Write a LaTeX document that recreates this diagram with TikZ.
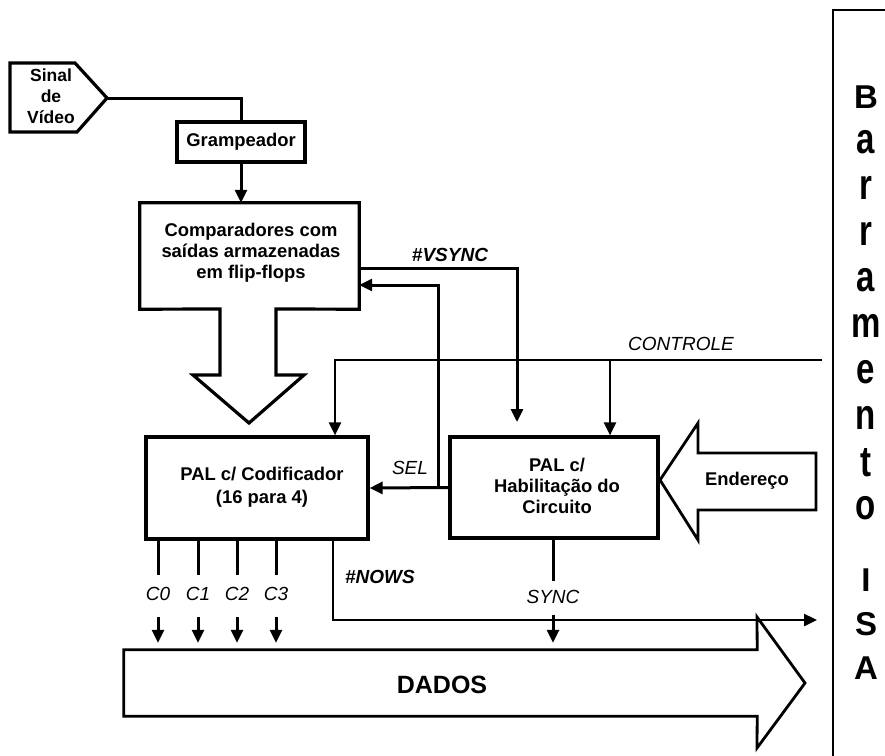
\documentclass[tikz,border=0pt]{standalone}
\usepackage{fontspec}
\setmainfont{Liberation Sans}
\usepackage{graphicx}
\usetikzlibrary{arrows.meta}
\newcommand\stretchlc[1]{\scalebox{1}[1.3]{#1}}
\begin{document}
\begin{tikzpicture}[x=1pt,y=-1pt,
  thick3/.style={line width=3.2pt},
  conn/.style={line width=3pt},
  thinl/.style={line width=2.4pt},
  arr/.style={-{Triangle[length=13pt,width=12pt]}},
  txt/.style={font=\fontsize{18.4}{21}\selectfont\bfseries, align=center, inner sep=0pt},
  lbl/.style={font=\fontsize{19}{20}\selectfont\itshape, inner sep=0pt},
  blbl/.style={font=\fontsize{19}{20}\selectfont\bfseries\itshape, inner sep=0pt},
  busl/.style={font=\fontsize{33}{33}\selectfont\bfseries, inner sep=0pt},
  line join=miter]
\useasboundingbox (0,0) rectangle (885,755);

% Sinal de Video
\node[txt, font=\fontsize{17.5}{21}\selectfont\bfseries] (sinal) at (51,96) {Sinal\\de\\Vídeo};
\draw[thick3] (10,63) -- (75,63) -- (107,98) -- (77,132) -- (10,132) -- cycle;
\coordinate (sinaltip) at (107,98);

% Grampeador
\node[draw, thick3, txt, minimum width=128pt, minimum height=40pt] (gramp) at (241,142) {Grampeador};

% Comparadores
\node[minimum width=219pt, minimum height=106pt] (comp) at (249.5,256) {};
\node[txt] (comptxt) at (251,253) {Comparadores com\\saídas armazenadas\\em flip-flops};
\draw[thick3] (comp.north west) -- (comp.north east) -- (comp.south east) -- (276,309) -- (276,375) -- (304,375) -- (249,423) -- (193,375) -- (220,375) -- (220,309) -- (comp.south west) -- cycle;

% Codificador
\node[draw, thick3, minimum width=222pt, minimum height=102pt] (codif) at (257,488) {};
\node[txt, font=\fontsize{18.4}{23}\selectfont\bfseries] (codiftxt) at (262,487) {PAL c/ Codificador\\(16 para 4)};

% Habilitacao
\node[draw, thick3, minimum width=208pt, minimum height=101pt] (habil) at (554,487.5) {};
\node[txt] (habiltxt) at (557,486) {PAL c/\\Habilitação do\\Circuito};

% Endereco
\node[txt] (ender) at (747,481) {Endereço};
\draw[line width=2.8pt] (660,480) -- (698,423) -- (698,453) -- (816,453) -- (816,510) -- (698,510) -- (698,540) -- cycle;

% DADOS
\node[minimum width=633pt, minimum height=66pt] (dados) at (440.5,683) {};
\node[font=\fontsize{25}{25}\selectfont\bfseries, inner sep=0pt] (dadostxt) at (442,685) {DADOS};
\draw[line width=2.8pt] (dados.north west) -- (dados.north east) -- (757,617) -- (805,683) -- (757,748) -- (dados.south east) -- (dados.south west) -- cycle;

% Barramento ISA
\draw[thinl] (886,10) -- (833,10) -- (833,756);
\foreach \ch/\yy [count=\k] in {B/97, {\stretchlc{a}}/142, {\stretchlc{r}}/188, {\stretchlc{r}}/234, {\stretchlc{a}}/280, {\stretchlc{m}}/326, {\stretchlc{e}}/372, {\stretchlc{n}}/418, {\stretchlc{t}}/463, {\stretchlc{o}}/508, I/580, S/624, A/668}
  {\node[busl] (bus\k) at (866,\yy) {\ch};}

% connectors
\draw[conn] (sinaltip) -| (gramp.north);
\draw[conn, arr] (gramp.south) -- (gramp.south |- comp.north);

\coordinate (vsyncend) at (517,422);
\draw[conn, arr] (comp.east |- 0,268) -| (vsyncend);
\node[blbl] (vsynclbl) at (450,255) {\#VSYNC};

\draw[conn, arr] (habil.west) -- (codif.east);
\coordinate (selj) at (438,488);
\draw[conn, arr] (selj) |- (comp.east |- 0,285);
\node[lbl] (sellbl) at (410,468) {SEL};

\coordinate (ctrlR) at (822,360);
\draw[thinl, arr] (ctrlR) -| ([xshift=78pt]codif.north);
\draw[thinl, arr] ([xshift=56pt]habil.north |- ctrlR) -- ([xshift=56pt]habil.north);
\node[lbl] (ctrllbl) at (681,344) {CONTROLE};

\foreach \i/\x in {0/158,1/198,2/237,3/276} {
  \node[lbl] (c\i) at (\x,594) {C\i};
  \draw[conn] (c\i |- codif.south) -- ++(0,34);
  \draw[conn, arr] ([yshift=-23pt]c\i.center) -- ([yshift=7pt]c\i |- dados.north);
}

\coordinate (nowsend) at (817,620);
\draw[thinl, arr] ([xshift=76pt]codif.south) |- (nowsend);
\node[blbl] (nowslbl) at (380,577) {\#NOWS};

\node[lbl] (synclbl) at (553,597) {SYNC};
\draw[conn] (synclbl |- habil.south) -- ++(0,41);
\draw[conn, arr] ([yshift=-18pt]synclbl.center) -- ([yshift=7pt]synclbl |- dados.north);
\end{tikzpicture}
\end{document}
